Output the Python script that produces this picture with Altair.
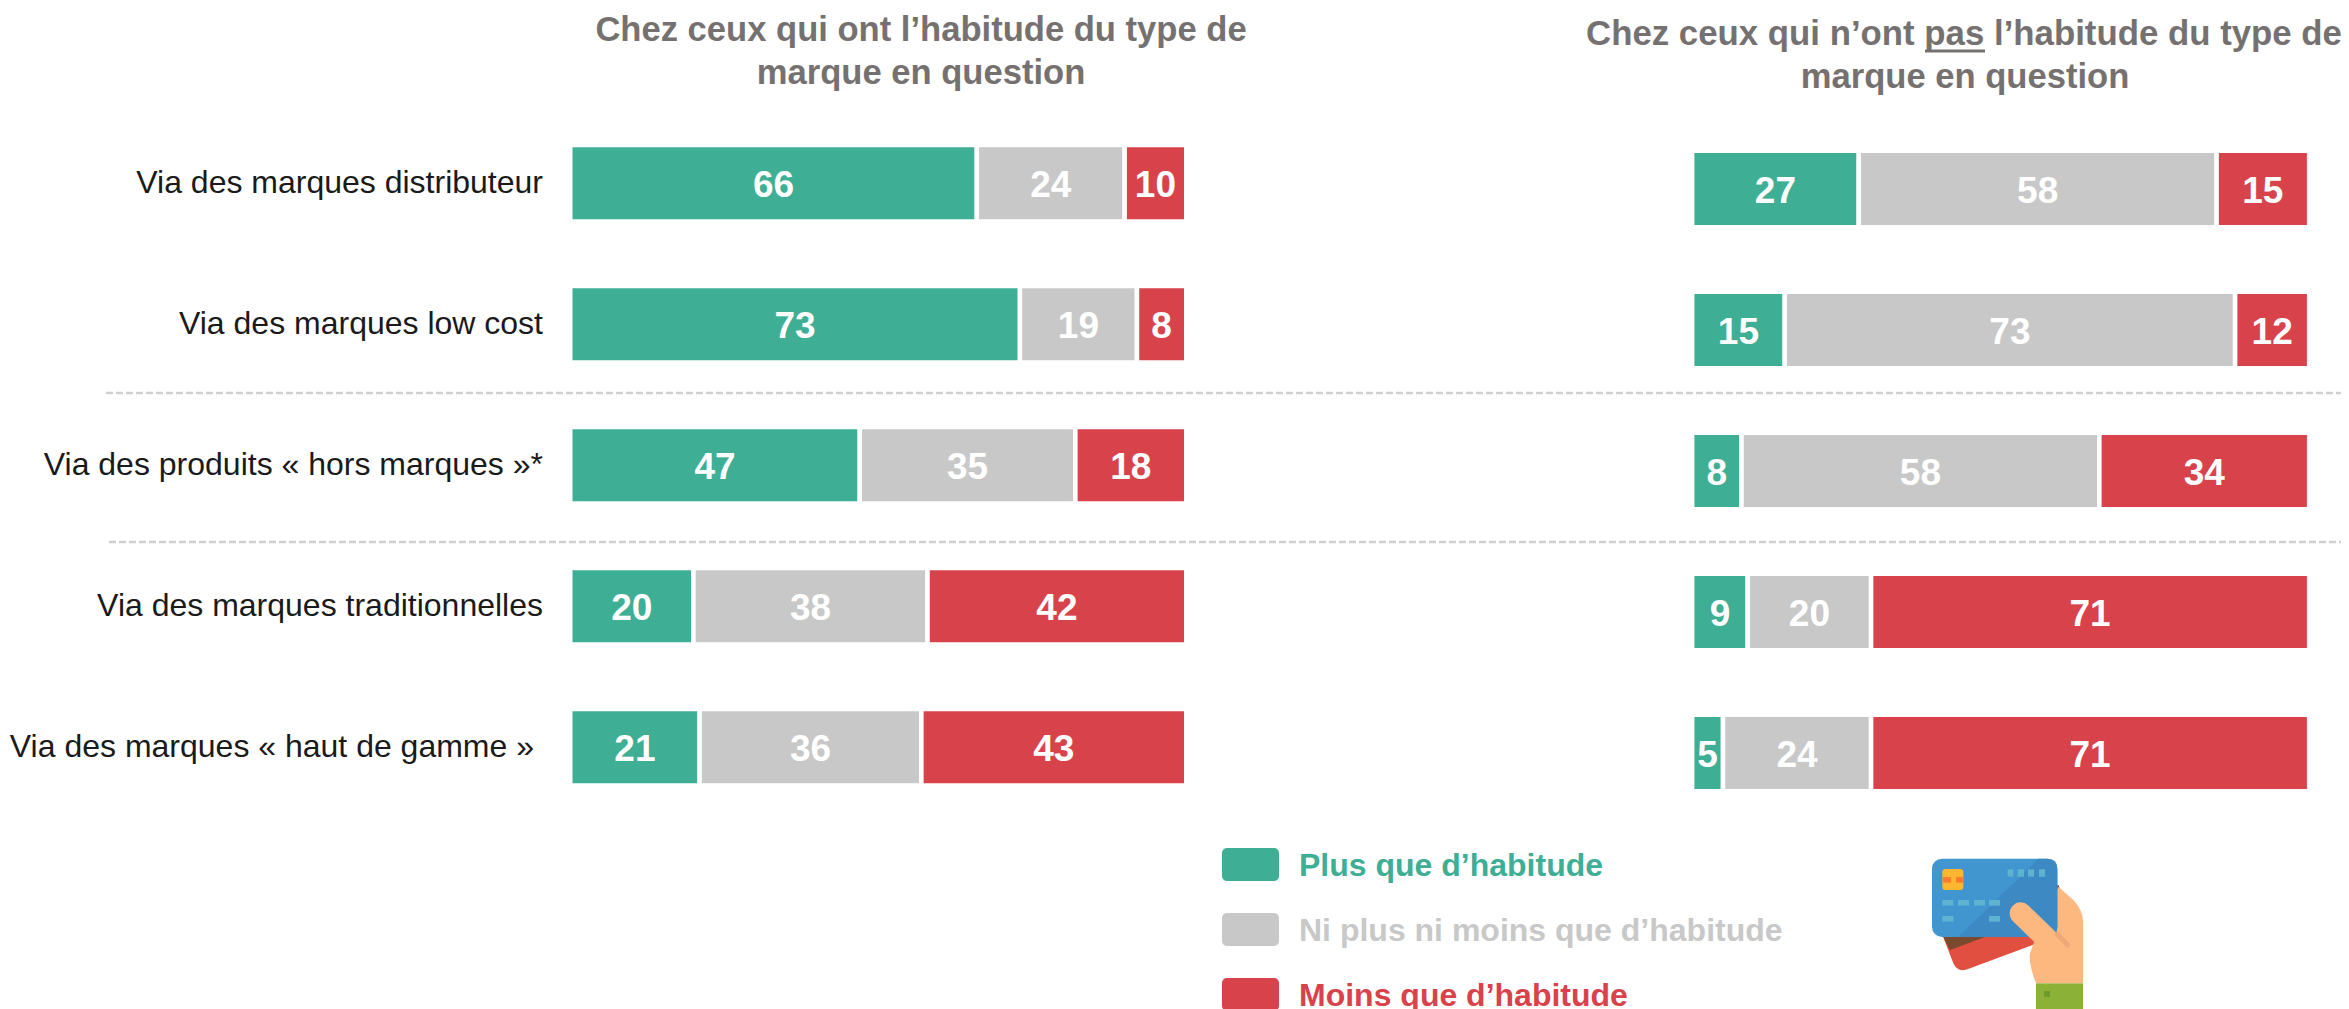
import base64
import altair as alt
import pandas as pd

categories = ["Via des marques distributeur", "Via des marques low cost",
              "Via des produits « hors marques »*", "Via des marques traditionnelles",
              "Via des marques « haut de gamme »"]
series = ["Plus que d’habitude", "Ni plus ni moins que d’habitude", "Moins que d’habitude"]
colors = ["#3EAE95", "#C8C8C8", "#D8434B"]
left_plus = [66, 73, 47, 20, 21]
left_neutral = [24, 19, 35, 38, 36]
left_minus = [10, 8, 18, 42, 43]
right_plus = [27, 15, 8, 9, 5]
right_neutral = [58, 73, 58, 20, 24]
right_minus = [15, 12, 34, 71, 71]

FONT = "Liberation Sans"
TITLE_GREY = "#767171"
W, H = 2333, 1001


def table(a, b, c):
    rows = []
    for i, cat in enumerate(categories):
        for j, v in enumerate((a[i], b[i], c[i])):
            rows.append({"cat": cat, "series": series[j], "order": j, "value": v})
    return pd.DataFrame(rows)


color = alt.Color("series:N", scale=alt.Scale(domain=series, range=colors), legend=None)


def panel(df, xr, yr):
    xs = alt.Scale(domain=[0, 100], range=xr, nice=False, zero=False)
    ys = alt.Scale(domain=categories, range=yr, type="band", padding=0)
    y = alt.Y("cat:N", scale=ys, axis=None, sort=categories)
    bars = alt.Chart(df).mark_bar(size=76.5, stroke="white", strokeWidth=4.5).encode(
        x=alt.X("value:Q", stack="zero", scale=xs, axis=None),
        y=y, color=color, order=alt.Order("order:Q"))
    txt = alt.Chart(df).transform_stack(
        stack="value", groupby=["cat"], sort=[alt.SortField("order")], as_=["v0", "v1"]
    ).transform_calculate(mid="(datum.v0+datum.v1)/2").mark_text(
        font=FONT, fontWeight="bold", fontSize=37, color="white", baseline="middle", dy=3
    ).encode(x=alt.X("mid:Q", scale=xs, axis=None), y=y, text="value:Q")
    return [bars, txt]


def label_text(text, x, y, size=34.6, weight="bold", col=TITLE_GREY, align="center"):
    return alt.Chart(pd.DataFrame({"t": [text]})).mark_text(
        font=FONT, fontSize=size, fontWeight=weight, color=col, align=align, baseline="alphabetic"
    ).encode(x=alt.value(x), y=alt.value(y), text="t:N")


def dashed(x, y):
    return alt.Chart(pd.DataFrame({"d": [0]})).mark_rule(
        color="#D0D0D0", strokeWidth=2.5, strokeDash=[7, 3]
    ).encode(x=alt.value(x), x2=alt.value(W), y=alt.value(y))


def cat_label_layer(names, x):
    return alt.Chart(pd.DataFrame({"cat": names})).mark_text(
        font=FONT, fontSize=32, color="#1A1A1A", align="right", baseline="middle", dy=0
    ).encode(
        x=alt.value(x),
        y=alt.Y("cat:N", scale=alt.Scale(domain=categories, range=[104.7, 809.7], type="band", padding=0),
                axis=None, sort=categories),
        text="cat:N")


leg_df = pd.DataFrame({"series": series})
leg_y = alt.Y("series:N", scale=alt.Scale(domain=series, range=[824, 1019], type="band", padding=0),
              axis=None, sort=series)
leg_sw = alt.Chart(leg_df).mark_bar(size=33, cornerRadius=5).encode(
    x=alt.value(1214), x2=alt.value(1271), y=leg_y, color=color)
leg_tx = alt.Chart(leg_df).mark_text(
    font=FONT, fontSize=32, fontWeight="bold", align="left", baseline="middle", dy=1
).encode(x=alt.value(1291), y=leg_y, text="series:N", color=color)

svg = """<svg xmlns='http://www.w3.org/2000/svg' width='570' height='477' viewBox='0 0 570 477'>
<path d='M100 262 L130 340 Q142 368 172 358 L462 250 Q490 238 480 205 L445 105 Z' fill='#E04F3F'/>
<path d='M100 262 L120 300 L470 170 L445 105 Z' fill='#7A4A2E'/>
<path d='M445 110 L490 150 Q519 180 519 215 L519 400 L378 400 Q355 340 360 310 L400 200 Z' fill='#FDB87F'/>
<rect x='66' y='26' width='376' height='235' rx='30' fill='#4296D0'/>
<path d='M385 26 L412 26 Q442 26 442 56 L442 231 Q442 261 412 261 L145 261 Z' fill='#3D89C4'/>
<rect x='97' y='57' width='63' height='63' rx='10' fill='#FDB62F'/>
<rect x='99' y='81' width='24' height='17' fill='#FD7B2F'/><rect x='138' y='81' width='22' height='17' fill='#FD7B2F'/>
<g fill='#5EB3D1'>
<rect x='293' y='58' width='17' height='22'/><rect x='323' y='58' width='19' height='22'/>
<rect x='354' y='58' width='18' height='22'/><rect x='387' y='58' width='18' height='22'/>
<rect x='97' y='150' width='33' height='17'/><rect x='144' y='150' width='33' height='17'/>
<rect x='192' y='150' width='33' height='17'/><rect x='237' y='150' width='33' height='17'/>
<rect x='97' y='198' width='33' height='17'/><rect x='237' y='198' width='33' height='17'/>
</g>
<path d='M332 190 L445 300' stroke='#FDB87F' stroke-width='66' stroke-linecap='round' fill='none'/>
<path d='M442 253 L473 284' stroke='#EDA875' stroke-width='15' stroke-linecap='round' fill='none'/>
<rect x='378' y='400' width='141' height='77' fill='#8BB236'/>
<rect x='402' y='423' width='18' height='18' fill='#6F9A2B'/>
</svg>"""
uri = "data:image/svg+xml;base64," + base64.b64encode(svg.encode()).decode()
icon = alt.Chart(pd.DataFrame({"u": [uri]})).mark_image(
    width=190, height=159, align="left", baseline="top"
).encode(x=alt.value(1902), y=alt.value(842), url="u:N")

underline = alt.Chart(pd.DataFrame({"d": [0]})).mark_rule(color=TITLE_GREY, strokeWidth=3).encode(
    x=alt.value(1917), x2=alt.value(1977), y=alt.value(43))

layers = []
layers += panel(table(left_plus, left_neutral, left_minus), [562.25, 1178.25], [104.7, 809.7])
layers += panel(table(right_plus, right_neutral, right_minus), [1684.15, 2301.15], [110.5, 815.5])
layers += [
    cat_label_layer(categories[:4], 535),
    cat_label_layer(categories[4:], 526),
    label_text("Chez ceux qui ont l’habitude du type de", 913, 33),
    label_text("marque en question", 913, 76),
    label_text("Chez ceux qui n’ont pas l’habitude du type de", 1956, 37, size=34.8),
    label_text("marque en question", 1957, 80),
    underline,
    dashed(98, 385), dashed(101, 534),
    leg_sw, leg_tx, icon,
]

chart = alt.layer(*layers).resolve_scale(x="independent", y="independent").properties(
    width=W, height=H, padding=0, autosize=alt.AutoSizeParams(type="none")
).configure_view(stroke=None)

chart.save("out.html", embed_options={"renderer": "svg", "actions": False})
